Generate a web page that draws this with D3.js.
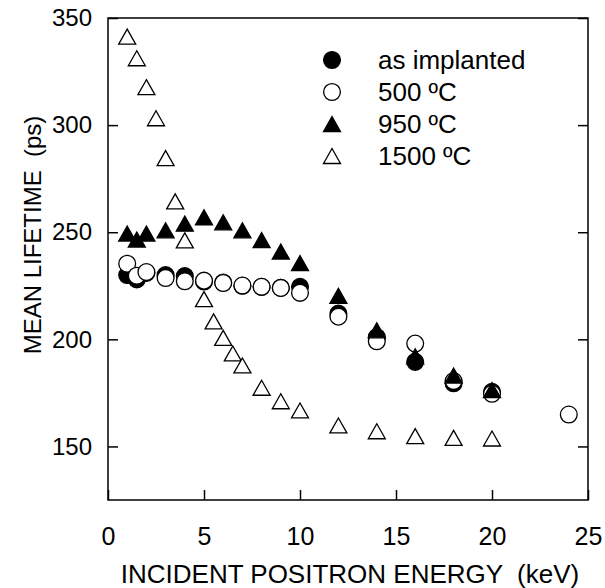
<!DOCTYPE html>
<html>
<head>
<meta charset="utf-8">
<script src="https://cdn.jsdelivr.net/npm/d3@7"></script>
<style>
  body { margin: 0; background: #fff; }
  svg { display: block; font-family: "Liberation Sans", Arial, sans-serif; }
  text { white-space: pre; }
</style>
</head>
<body>
<svg id="chart" width="605" height="588"></svg>
<script>
// data
var energyA = [1, 1.5, 2, 3, 4, 5, 6, 7, 8, 9, 10, 12, 14, 16, 18, 20];
var implanted = [230, 228, 231, 230, 229.5, 227, 226.5, 225, 224.5, 224, 224.5, 212, 201, 189.5, 179.5, 175.5];

var energyB = [1, 1.5, 2, 3, 4, 5, 6, 7, 8, 9, 10, 12, 14, 16, 18, 20, 24];
var anneal500 = [235.3, 229.7, 231.4, 228.6, 227.1, 227.4, 226.3, 225.1, 224.5, 224, 221.7, 210.6, 199.1, 198, 180.5, 174.6, 164.9];

var energyC = [1, 1.5, 2, 3, 4, 5, 6, 7, 8, 9, 10, 12, 14, 16, 18, 20];
var anneal950 = [249.4, 246.6, 249.4, 250.9, 254, 257, 254.6, 250.9, 246.3, 241, 235.6, 220.3, 204.2, 192.1, 183.1, 176.3];

var energyD = [1, 1.5, 2, 2.5, 3, 3.5, 4, 5, 5.5, 6, 6.5, 7, 8, 9, 10, 12, 14, 16, 18, 20];
var anneal1500 = [341.3, 331.2, 317.7, 303.2, 284.6, 264.4, 246.2, 218.8, 208.4, 200.7, 193.4, 187.8, 177.4, 171.1, 166.8, 159.8, 157.1, 154.8, 154, 153.7];

var xTicks = [0, 5, 10, 15, 20, 25];
var yTicks = [150, 200, 250, 300, 350];
var legendLabels = ["as implanted", "500 \u00baC", "950 \u00baC", "1500 \u00baC"];

var svg = d3.select("#chart");
var plotL = 108, plotR = 588, plotT = 18, plotB = 500;

var x = d3.scaleLinear().domain([0, 25]).range([plotL, plotR]);
var y = d3.scaleLinear().domain([125, 350]).range([plotB, plotT]);

// frame
svg.append("rect")
  .attr("x", plotL).attr("y", plotT)
  .attr("width", plotR - plotL).attr("height", plotB - plotT)
  .attr("fill", "none").attr("stroke", "#000").attr("stroke-width", 1.5);

// ticks (inward)
var tickLen = 10;
svg.append("g")
  .attr("transform", "translate(0," + plotB + ")")
  .call(d3.axisBottom(x).tickValues(xTicks).tickSizeInner(-tickLen).tickSizeOuter(0).tickPadding(27))
  .call(function(g) {
    g.select(".domain").remove();
    g.selectAll("text").attr("font-size", 25).attr("font-family", "Liberation Sans, Arial, sans-serif").attr("fill", "#000");
  });

svg.append("g")
  .attr("transform", "translate(" + plotL + ",0)")
  .call(d3.axisLeft(y).tickValues(yTicks).tickSizeInner(-tickLen).tickSizeOuter(0).tickPadding(16))
  .call(function(g) {
    g.select(".domain").remove();
    g.selectAll("text").attr("font-size", 24).attr("font-family", "Liberation Sans, Arial, sans-serif").attr("fill", "#000");
  });

svg.append("g")
  .attr("transform", "translate(" + plotR + ",0)")
  .call(d3.axisRight(y).tickValues(yTicks).tickSizeInner(-tickLen).tickSizeOuter(0).tickFormat(""))
  .call(function(g) { g.select(".domain").remove(); });

svg.selectAll(".tick line").attr("stroke", "#000").attr("stroke-width", 1.5);

// axis titles
svg.append("text")
  .attr("x", (plotL + plotR) / 2 + 2).attr("y", 583)
  .attr("text-anchor", "middle").attr("font-size", 26)
  .text("INCIDENT POSITRON ENERGY  (keV)");

svg.append("text")
  .attr("transform", "translate(41,235) rotate(-90)")
  .attr("text-anchor", "middle").attr("font-size", 24)
  .text("MEAN LIFETIME  (ps)");

// markers
var r = 8.4;
var tri = "M0,-7.5L8.5,7.5L-8.5,7.5Z";

function circles(xs, ys, fill) {
  svg.append("g").selectAll("circle")
    .data(xs).join("circle")
    .attr("cx", function(d) { return x(d); })
    .attr("cy", function(d, i) { return y(ys[i]); })
    .attr("r", r)
    .attr("fill", fill).attr("stroke", "#000").attr("stroke-width", 1.3);
}

function triangles(xs, ys, fill) {
  svg.append("g").selectAll("path")
    .data(xs).join("path")
    .attr("d", tri)
    .attr("transform", function(d, i) { return "translate(" + x(d) + "," + y(ys[i]) + ")"; })
    .attr("fill", fill).attr("stroke", "#000").attr("stroke-width", 1.3)
    .attr("stroke-linejoin", "miter");
}

circles(energyA, implanted, "#000");
circles(energyB, anneal500, "#fff");
triangles(energyC, anneal950, "#000");
triangles(energyD, anneal1500, "#fff");

// legend
var legend = svg.append("g");
legendLabels.forEach(function(label, i) {
  var cy = 60 + i * 32;
  if (i < 2) {
    legend.append("circle").attr("cx", 332).attr("cy", cy).attr("r", r)
      .attr("fill", i === 0 ? "#000" : "#fff").attr("stroke", "#000").attr("stroke-width", 1.3);
  } else {
    legend.append("path").attr("d", tri).attr("transform", "translate(332," + cy + ")")
      .attr("fill", i === 2 ? "#000" : "#fff").attr("stroke", "#000").attr("stroke-width", 1.3);
  }
  legend.append("text").attr("x", 378).attr("y", cy + 9).attr("font-size", 26).text(label);
});
</script>
</body>
</html>
